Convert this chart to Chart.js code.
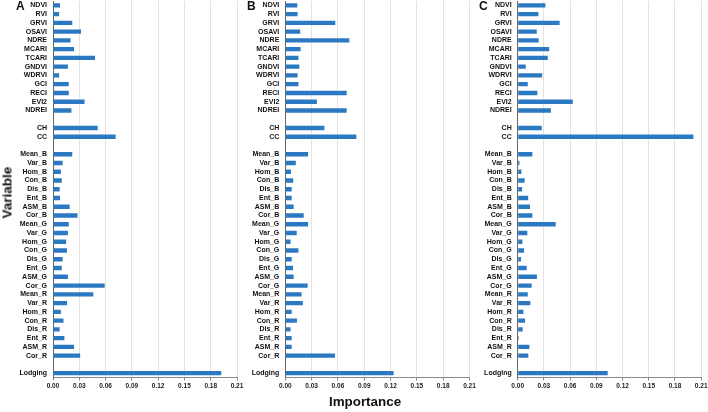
<!DOCTYPE html>
<html>
<head>
<meta charset="utf-8">
<script src="https://cdn.jsdelivr.net/npm/chart.js@4.4.1/dist/chart.umd.min.js"></script>
<style>
  html, body { margin: 0; padding: 0; background: #ffffff; }
  body { width: 708px; height: 412px; position: relative; overflow: hidden; font-family: "Liberation Sans", Arial, sans-serif; }
  canvas { position: absolute; top: 0; }
  .lbl { position: absolute; font-weight: bold; color: #111; white-space: nowrap; }
</style>
</head>
<body>
<canvas id="cA" width="250" height="400" style="left:0px"></canvas>
<canvas id="cB" width="250" height="400" style="left:236px"></canvas>
<canvas id="cC" width="240" height="400" style="left:468px"></canvas>
<div class="lbl" style="left:16px;top:-1px;font-size:12px;">A</div>
<div class="lbl" style="left:247px;top:-1px;font-size:12px;">B</div>
<div class="lbl" style="left:479px;top:-1px;font-size:12px;">C</div>
<div class="lbl" style="left:-21px;top:185px;font-size:13.5px;transform:rotate(-90deg);width:56px;text-align:center;">Variable</div>
<div class="lbl" style="left:300px;top:394px;font-size:13.4px;width:130px;text-align:center;">Importance</div>
<script>
const categories = ['NDVI','RVI','GRVI','OSAVI','NDRE','MCARI','TCARI','GNDVI','WDRVI','GCI','RECI','EVI2','NDREI',' ',
  'CH','CC','  ',
  'Mean_B','Var_B','Hom_B','Con_B','Dis_B','Ent_B','ASM_B','Cor_B',
  'Mean_G','Var_G','Hom_G','Con_G','Dis_G','Ent_G','ASM_G','Cor_G',
  'Mean_R','Var_R','Hom_R','Con_R','Dis_R','Ent_R','ASM_R','Cor_R','   ',
  'Lodging'];

const importanceA = [0.008,0.007,0.022,0.032,0.020,0.024,0.048,0.017,0.007,0.018,0.018,0.036,0.021,null,
  0.051,0.0715,null,
  0.022,0.011,0.009,0.010,0.0076,0.008,0.019,0.028,
  0.018,0.017,0.015,0.016,0.011,0.010,0.017,0.059,
  0.046,0.016,0.009,0.012,0.0076,0.013,0.024,0.031,null,
  0.192];

const importanceB = [0.0137,0.014,0.057,0.017,0.073,0.0175,0.015,0.016,0.014,0.015,0.070,0.036,0.070,null,
  0.0445,0.081,null,
  0.026,0.012,0.0065,0.009,0.0073,0.0073,0.0095,0.021,
  0.026,0.013,0.006,0.015,0.0073,0.0088,0.0095,0.0255,
  0.0186,0.020,0.0073,0.0133,0.006,0.0073,0.0073,0.0567,null,
  0.1235];

const importanceC = [0.0317,0.0237,0.048,0.0218,0.024,0.036,0.0344,0.0092,0.028,0.0115,0.0225,0.063,0.038,null,
  0.0275,0.201,null,
  0.0168,0.002,0.0042,0.008,0.005,0.012,0.014,0.0168,
  0.0435,0.011,0.0053,0.0073,0.0038,0.0103,0.022,0.016,
  0.0115,0.0145,0.0065,0.0084,0.0057,0.0012,0.0134,0.0122,null,
  0.103];

const tickValues = [0, 0.03, 0.06, 0.09, 0.12, 0.15, 0.18, 0.21];

const FONT = '"Liberation Sans", Arial, sans-serif';
const BAR = '#2b79c2';

function makeChart(id, values, yWidth, padRight) {
  return new Chart(document.getElementById(id), {
    type: 'bar',
    data: {
      labels: categories,
      datasets: [{
        data: values,
        backgroundColor: BAR,
        borderWidth: 0,
        barPercentage: 0.5,
        categoryPercentage: 1.0
      }]
    },
    options: {
      indexAxis: 'y',
      responsive: false,
      animation: false,
      devicePixelRatio: 1,
      layout: { padding: { top: 1, bottom: 0, left: 0, right: padRight } },
      plugins: { legend: { display: false }, tooltip: { enabled: false }, title: { display: false } },
      scales: {
        x: {
          min: 0, max: 0.21,
          afterBuildTicks: (s) => { s.ticks = tickValues.map(v => ({ value: v })); },
          afterFit: (s) => { s.height = 22.5; s.paddingLeft = 0; s.paddingRight = 0; },
          grid: { color: '#e3e3e3', lineWidth: 1, drawTicks: true, tickLength: 3, tickColor: '#8a8a8a' },
          border: { display: true, color: '#8a8a8a', width: 1 },
          ticks: {
            padding: 2,
            maxRotation: 0,
            autoSkip: false,
            color: '#222',
            font: { family: FONT, size: 6.5, weight: 'bold' },
            callback: (v) => Number(v).toFixed(2)
          }
        },
        y: {
          afterFit: (s) => { s.width = yWidth; s.paddingTop = 0; s.paddingBottom = 0; },
          grid: { display: false, drawTicks: false },
          border: { display: true, color: '#666', width: 1 },
          ticks: {
            padding: 6,
            autoSkip: false,
            color: '#111',
            font: { family: FONT, size: 7, weight: 'bold' }
          }
        }
      }
    }
  });
}

makeChart('cA', importanceA, 53, 13);
makeChart('cB', importanceB, 49.3, 16.5);
makeChart('cC', importanceC, 49.7, 6.8);
</script>
</body>
</html>
